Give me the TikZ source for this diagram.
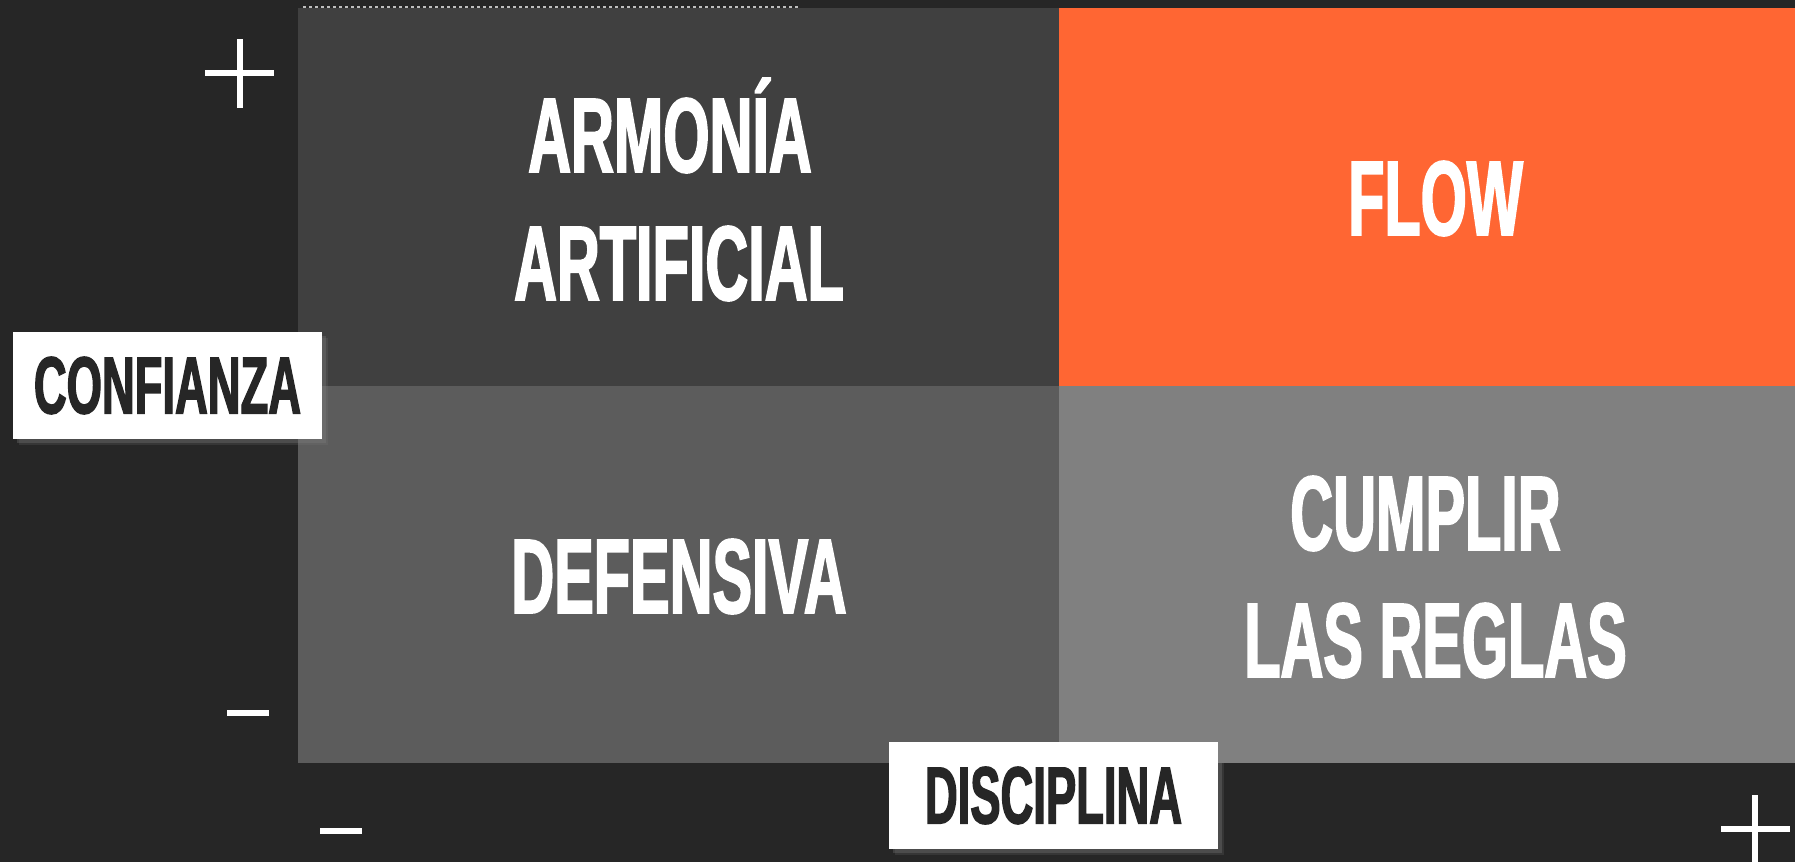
\documentclass[tikz,border=0pt]{standalone}
\usepackage{fontspec}
\newfontfamily\Narrow{Liberation Sans}[FakeStretch=0.56,FakeBold=1.6]
\usepackage{xcolor}
\definecolor{ColBack}{RGB}{38,38,38}
\definecolor{ColA}{RGB}{64,64,64}
\definecolor{ColB}{RGB}{255,102,51}
\definecolor{ColC}{RGB}{92,92,92}
\definecolor{ColD}{RGB}{128,128,128}
\usepackage{tikz}
\usetikzlibrary{shadows}
\tikzstyle{QuadText}=[text=white,inner sep=0pt,anchor=base,
font=\Narrow\bfseries\fontsize{53}{64}\selectfont]
\tikzstyle{AxisLabel}=[fill=white,text=ColBack,inner sep=0pt,
font=\Narrow\bfseries\fontsize{40.5}{48}\selectfont,
drop shadow={shadow xshift=3.2pt,shadow yshift=-3.2pt,opacity=.18},
drop shadow={shadow xshift=1.8pt,shadow yshift=-1.8pt,opacity=.3}]
\tikzstyle{Sign}=[draw=white,line width=2.8pt]

\begin{document}
\begin{tikzpicture}[x=0.5pt,y=-0.5pt]
        \fill[ColBack](0,0)rectangle(1795,862);
        \useasboundingbox(0,0)rectangle(1795,862);
        \fill[ColA](298,8)rectangle(1059,386);
        \fill[ColB](1059,8)rectangle(1795,386);
        \fill[ColC](298,386)rectangle(1059,763);
        \fill[ColD](1059,386)rectangle(1795,763);
        \draw[white!70!ColBack,line width=0.6pt,
            dash pattern=on 1.5pt off 1.5pt](303,7)--(800,7);
        \node[QuadText](armonia)at(670,172){ARMONÍA};
        \node[QuadText](artificial)at(679,300){ARTIFICIAL};
        \node[QuadText](flow)at(1435.5,235){FLOW};
        \node[QuadText](defensiva)at(679,613){DEFENSIVA};
        \node[QuadText](cumplir)at(1425.5,550){CUMPLIR};
        \node[QuadText](reglas)at(1435.5,677){LAS REGLAS};
        \draw[Sign](205,73)--(274,73)(240,39)--(240,108);
        \draw[Sign](227,713)--(269,713);
        \draw[Sign](320,831)--(362,831);
        \draw[Sign](1721,829)--(1790,829)(1755,795)--(1755,864);
        \node[AxisLabel,minimum width=154.5pt,minimum height=53.5pt]
            (confianza)at(167.5,385.5){CONFIANZA};
        \node[AxisLabel,minimum width=164.5pt,minimum height=53.5pt]
            (disciplina)at(1053.5,795.5){DISCIPLINA};
    \end{tikzpicture}
\end{document}
